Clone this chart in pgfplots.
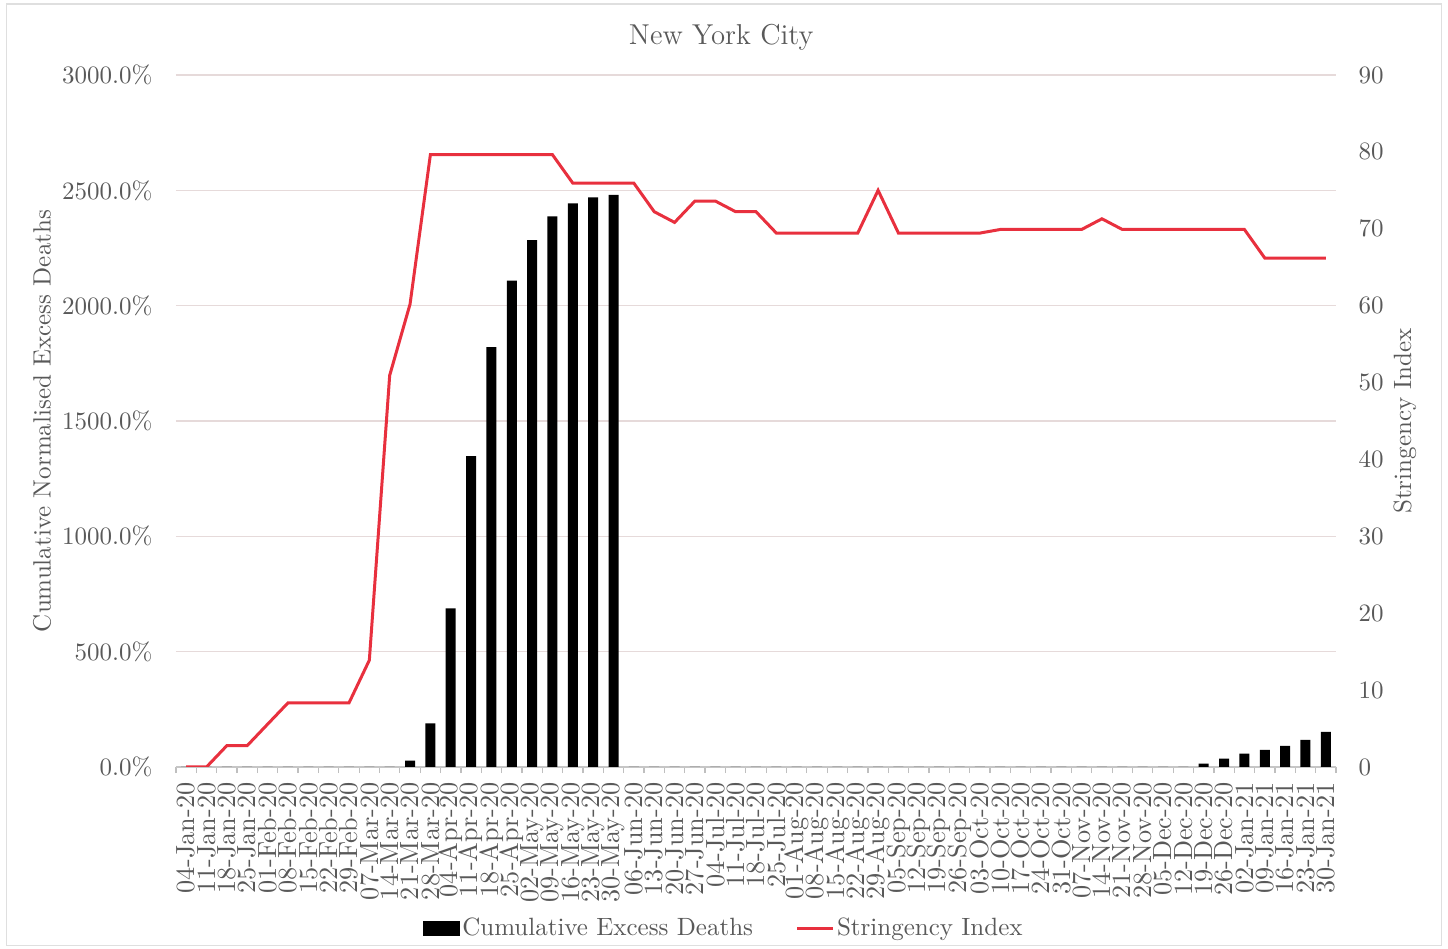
\documentclass[border=0pt]{standalone}
\usepackage{pgfplots}
\pgfplotsset{compat=1.18}
\definecolor{txt}{RGB}{89,89,89}
\definecolor{grd}{RGB}{230,218,218}
\definecolor{lred}{RGB}{232,48,62}

\pgfplotstableread{
x val
0 0
1 0
2 0
3 0
4 0
5 0
6 0
7 0
8 0
9 0
10 0
11 28
12 189
13 688
14 1348
15 1820
16 2108
17 2284
18 2387
19 2443
20 2469
21 2480
22 0
23 0
24 0
25 0
26 0
27 0
28 0
29 0
30 0
31 0
32 0
33 0
34 0
35 0
36 0
37 0
38 0
39 0
40 0
41 0
42 0
43 0
44 0
45 0
46 0
47 0
48 0
49 0
50 15
51 36
52 58
53 74
54 91
55 118
56 152
}\deaths

\pgfplotstableread{
x val
0 0
1 0
2 2.78
3 2.78
4 5.56
5 8.33
6 8.33
7 8.33
8 8.33
9 13.89
10 50.93
11 60.19
12 79.63
13 79.63
14 79.63
15 79.63
16 79.63
17 79.63
18 79.63
19 75.93
20 75.93
21 75.93
22 75.93
23 72.22
24 70.83
25 73.61
26 73.61
27 72.22
28 72.22
29 69.44
30 69.44
31 69.44
32 69.44
33 69.44
34 75.00
35 69.44
36 69.44
37 69.44
38 69.44
39 69.44
40 69.91
41 69.91
42 69.91
43 69.91
44 69.91
45 71.30
46 69.91
47 69.91
48 69.91
49 69.91
50 69.91
51 69.91
52 69.91
53 66.20
54 66.20
55 66.20
56 66.20
}\stringency

\begin{document}
\begin{tikzpicture}[x=1pt,y=1pt]
\useasboundingbox (0,0) rectangle (579.2,379.6);
\draw[gray!25, line width=0.5pt] (2.5,1.5) rectangle (576.5,378);
\begin{axis}[
  at={(70.4pt,72.8pt)}, anchor=south west,
  scale only axis, width=464pt, height=276.8pt,
  xmin=-0.5, xmax=56.5, ymin=0, ymax=3000,
  axis x line*=bottom, axis y line*=left,
  x axis line style={draw=gray!45, -, line width=0.6pt},
  y axis line style={draw=none},
  tick align=outside, major tick length=0pt, minor tick length=2.5pt,
  xtick={0,...,56},
  minor xtick={-0.5,0.5,...,56.5},
  minor x tick style={draw=gray!50, line width=0.5pt},
  xticklabels={04-Jan-20,11-Jan-20,18-Jan-20,25-Jan-20,01-Feb-20,08-Feb-20,15-Feb-20,22-Feb-20,29-Feb-20,07-Mar-20,14-Mar-20,21-Mar-20,28-Mar-20,04-Apr-20,11-Apr-20,18-Apr-20,25-Apr-20,02-May-20,09-May-20,16-May-20,23-May-20,30-May-20,06-Jun-20,13-Jun-20,20-Jun-20,27-Jun-20,04-Jul-20,11-Jul-20,18-Jul-20,25-Jul-20,01-Aug-20,08-Aug-20,15-Aug-20,22-Aug-20,29-Aug-20,05-Sep-20,12-Sep-20,19-Sep-20,26-Sep-20,03-Oct-20,10-Oct-20,17-Oct-20,24-Oct-20,31-Oct-20,07-Nov-20,14-Nov-20,21-Nov-20,28-Nov-20,05-Dec-20,12-Dec-20,19-Dec-20,26-Dec-20,02-Jan-21,09-Jan-21,16-Jan-21,23-Jan-21,30-Jan-21},
  xticklabel style={rotate=90, anchor=east, font=\fontsize{10.5}{12}\selectfont, text=txt},
  xticklabel shift=2.7pt,
  ytick={0,500,...,3000},
  scaled y ticks=false,
  yticklabel={\pgfmathprintnumber[fixed,fixed zerofill,precision=1,1000 sep={}]{\tick}\%},
  yticklabel style={font=\fontsize{10}{12}\selectfont, text=txt},
  yticklabel shift=5.9pt,
  /pgf/number format/assume math mode=true,
  ymajorgrids, grid style={grd, line width=0.6pt},
  ylabel={Cumulative Normalised Excess Deaths},
  ylabel style={at={(axis description cs:-0.1155,0.5)}, anchor=center, font=\fontsize{10}{12}\selectfont, text=txt},
  title={New York City},
  title style={at={(axis description cs:0.470,1.0578)}, anchor=center, yshift=-6.8pt, font=\fontsize{11.5}{13}\selectfont, text=txt},
]
\addplot[ybar, bar width=4pt, fill=black, draw=none] table[x=x, y=val] {\deaths};
\end{axis}
\begin{axis}[
  at={(70.4pt,72.8pt)}, anchor=south west,
  scale only axis, width=464pt, height=276.8pt,
  xmin=-0.5, xmax=56.5, ymin=0, ymax=90,
  axis x line=none, axis y line*=right,
  y axis line style={draw=none},
  xtick=\empty,
  tick align=outside, major tick length=0pt,
  ytick={0,10,...,90},
  yticklabel style={font=\fontsize{10}{12}\selectfont, text=txt},
  yticklabel shift=5.5pt,
  /pgf/number format/assume math mode=true,
  ylabel={Stringency Index},
  ylabel style={at={(axis description cs:1.0595,0.5)}, anchor=center, font=\fontsize{10}{12}\selectfont, text=txt},
  legend style={at={(axis description cs:0.4724,-0.234)}, anchor=center, draw=none, fill=none,
    legend columns=2, font=\fontsize{10}{12}\selectfont, text=txt,
    /tikz/every even column/.append style={column sep=16pt},
    /tikz/every odd column/.append style={column sep=0pt},
    nodes={inner xsep=1pt}},
]
\addlegendimage{legend image code/.code={\fill[black] (0pt,-2.8pt) rectangle (14.4pt,2.8pt);}}
\addlegendentry{Cumulative Excess Deaths}
\addplot[lred, line width=1.2pt, mark=none, legend image code/.code={\draw[lred, line width=1.2pt] (0pt,0pt) -- (14.4pt,0pt);}] table[x=x, y=val] {\stringency};
\addlegendentry{Stringency Index}
\end{axis}
\end{tikzpicture}
\end{document}
